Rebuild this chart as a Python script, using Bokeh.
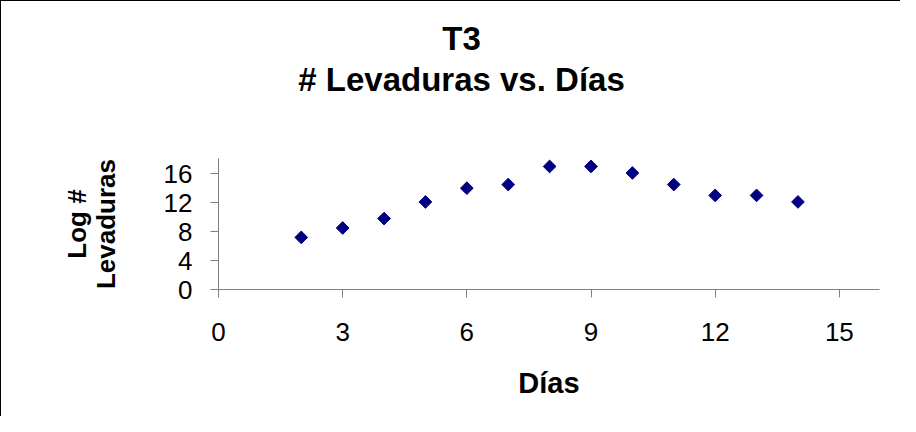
import math
from bokeh.plotting import figure
from bokeh.models import Range1d, FixedTicker, Title
from bokeh.embed import file_html
from bokeh.resources import INLINE

# ---- data ----
dias = [2, 3, 4, 5, 6, 7, 8, 9, 10, 11, 12, 13, 14]
log_levaduras = [7.2, 8.5, 9.8, 12.1, 14.0, 14.5, 17.0, 17.0, 16.1, 14.5, 13.0, 13.0, 12.1]
x_ticks = [0, 3, 6, 9, 12, 15]
y_ticks = [0, 4, 8, 12, 16]
title_lines = ["T3", "# Levaduras vs. Días"]
x_label = "Días"
y_label = "Log #\nLevaduras"

FONT = "Liberation Sans"
W, H = 900, 416
TITLE_PX = 33

p = figure(width=W, height=H, output_backend="svg", toolbar_location=None,
           x_range=Range1d(0, 15.97), y_range=Range1d(0, 18.1),
           min_border_left=217, min_border_right=22,
           min_border_top=157, min_border_bottom=128,
           background_fill_color="white", border_fill_color="white")
p.styles = {"border-left": "1px solid black", "border-top": "1px solid black"}
p.outline_line_color = None
p.xgrid.visible = False
p.ygrid.visible = False

for ax in (p.xaxis[0], p.yaxis[0]):
    ax.axis_line_color = "#808080"
    ax.axis_line_width = 1
    ax.major_tick_line_color = "#808080"
    ax.major_tick_in = 0
    ax.major_tick_out = 8
    ax.minor_tick_line_color = None
    ax.major_label_text_font = FONT
    ax.major_label_text_font_size = "26px"
    ax.major_label_text_color = "black"
    ax.axis_label_text_font = FONT
    ax.axis_label_text_font_style = "bold"
    ax.axis_label_text_font_size = "29px"
    ax.axis_label_text_color = "black"

p.xaxis.ticker = FixedTicker(ticks=x_ticks)
p.yaxis.ticker = FixedTicker(ticks=y_ticks)
p.xaxis.axis_label = x_label
p.yaxis.axis_label = y_label
p.xaxis.major_label_standoff = 25
p.yaxis.major_label_standoff = 18
p.xaxis.axis_label_standoff = 23
p.yaxis.axis_label_standoff = 40
p.yaxis.axis_label_text_font_size = "26px"
p.yaxis.axis_label_text_line_height = 0.95

p.scatter(dias, log_levaduras, marker="square", size=9, angle=math.pi / 4,
          fill_color="#000080", line_color="#000080")

# spacer between the plot area and the two-line title
p.add_layout(Title(text=" ", text_font_size="10px", standoff=47), "above")

# approximate text widths (em units, bold sans) to centre each line at x≈461 px
EM = {"T3": 1.167, "# Levaduras vs. Días": 9.894}
CENTER_FROM_FRAME = 461 - 218
for txt in reversed(title_lines):
    w = EM[txt] * TITLE_PX
    p.add_layout(Title(text=txt, align="left", offset=CENTER_FROM_FRAME - w / 2,
                       text_font=FONT, text_font_style="bold",
                       text_font_size=f"{TITLE_PX}px", text_color="black",
                       standoff=2), "above")

open("out.html", "w").write(file_html(p, INLINE))
